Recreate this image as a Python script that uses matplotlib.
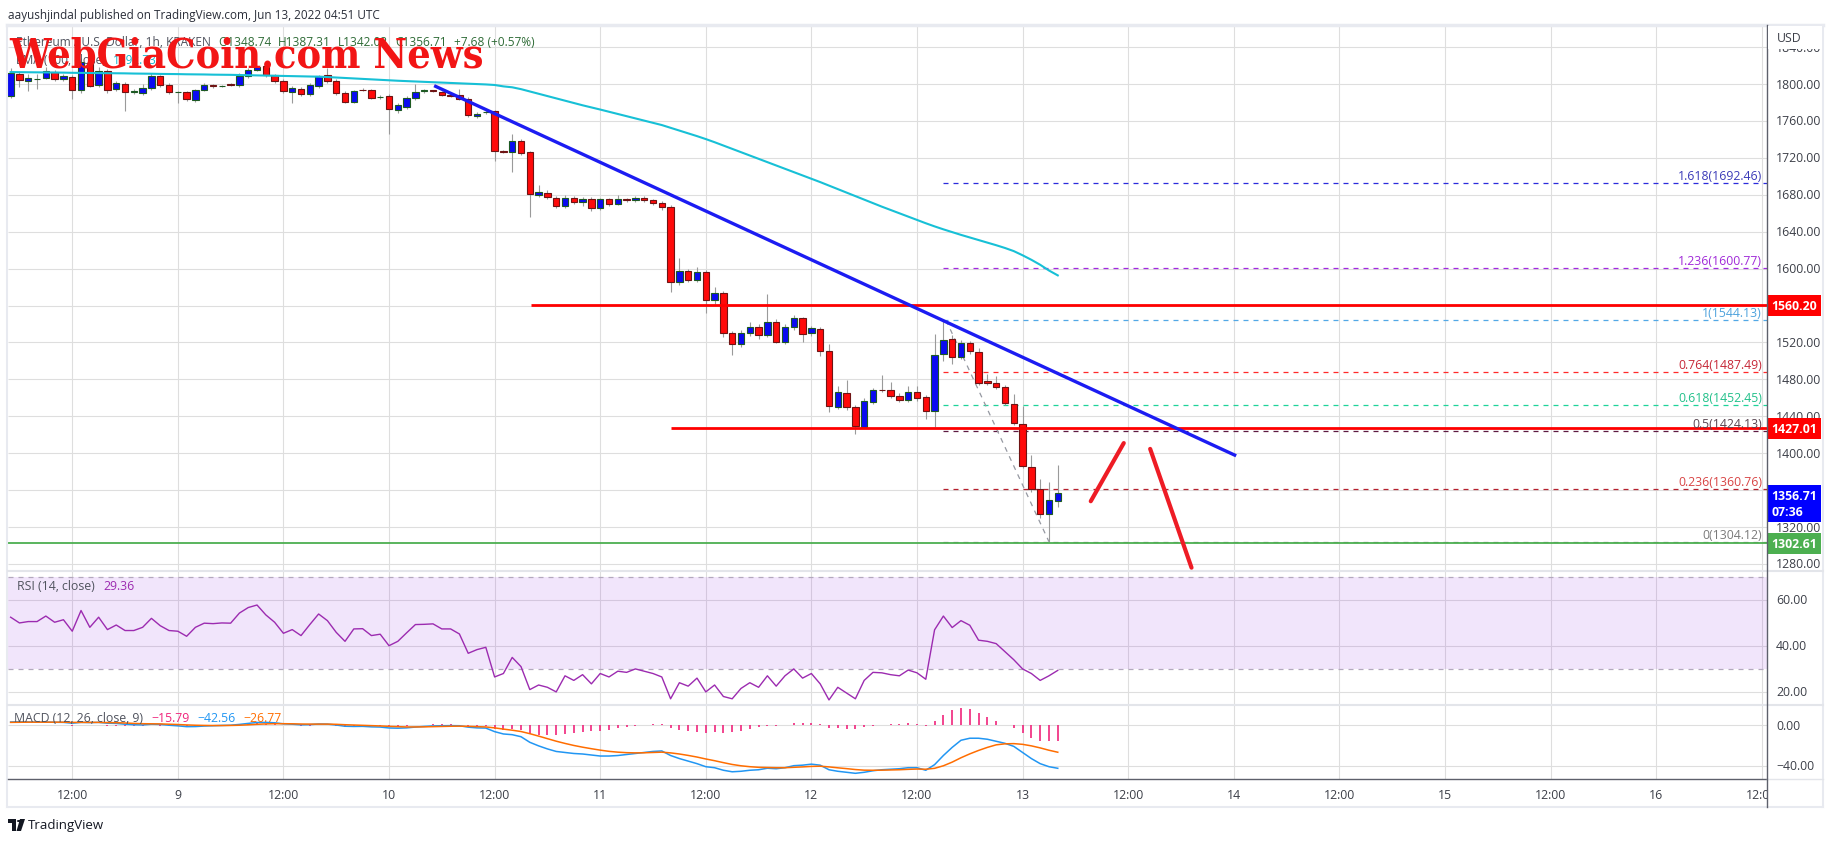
import matplotlib
matplotlib.use("Agg")
import matplotlib.pyplot as plt
from matplotlib.transforms import blended_transform_factory as blend
from matplotlib.patches import Rectangle, Polygon, Circle
from matplotlib.lines import Line2D

plt.rcParams['font.family'] = ['Open Sans', 'DejaVu Sans']

W, H, DPI = 1834, 845, 100

# ---------------- data: ETH/USD 1h (Kraken), hours counted from Jun 8 2022 00:00 UTC
hours = list(range(5, 125))

opens = [1787, 1811, 1803, 1805, 1807, 1813, 1805, 1808, 1793.5, 1822.5,
         1799, 1814, 1794.6, 1799.6, 1791, 1790, 1796, 1808.7, 1799, 1791,
         1791, 1783, 1793.5, 1798.5, 1797.8, 1799.8, 1799, 1809, 1815, 1819.6,
         1809.4, 1803, 1791, 1794.6, 1789, 1798, 1810, 1803, 1790, 1780.8,
         1794, 1793.5, 1785.5, 1787, 1772, 1775, 1785, 1792.5, 1793, 1791.7,
         1788, 1788, 1784, 1765, 1769.5, 1770.6, 1727, 1726, 1738, 1726,
         1680, 1682.5, 1677, 1668, 1677, 1672, 1676, 1666, 1675, 1670,
         1675, 1674, 1677, 1674, 1671, 1667, 1585, 1597, 1588, 1596,
         1566, 1574, 1530, 1518, 1530, 1537, 1528, 1542, 1521, 1536.6,
         1546, 1530, 1535, 1510.5, 1450, 1465, 1450, 1428, 1456, 1469,
         1468, 1462, 1458, 1466, 1461, 1446, 1507, 1524, 1504, 1519,
         1509.5, 1478, 1476, 1471.5, 1453, 1432, 1385, 1361, 1334, 1348.74]
highs = [1817, 1813, 1811, 1811, 1818, 1815, 1811, 1810, 1828, 1824,
         1818, 1816, 1803, 1802, 1795, 1800, 1812, 1810, 1801, 1793,
         1793, 1795, 1801, 1800, 1799, 1801, 1812, 1817, 1820, 1821,
         1811, 1805, 1798, 1797, 1801, 1810, 1817, 1805, 1792, 1794,
         1796, 1795, 1788, 1789, 1780, 1787, 1800, 1795, 1794, 1793,
         1790, 1795, 1786, 1770, 1772, 1772, 1729, 1746, 1740, 1728,
         1691, 1685, 1679, 1680, 1679, 1678, 1678, 1677, 1677, 1680,
         1677, 1679, 1679, 1676, 1673, 1669, 1612, 1600, 1602, 1598,
         1580, 1576, 1532, 1534, 1542, 1540, 1572, 1545, 1540, 1550,
         1548, 1538, 1537, 1518, 1473, 1479, 1452, 1460, 1471, 1485,
         1477, 1465, 1473, 1473, 1463, 1529, 1544.13, 1528, 1523, 1522,
         1514, 1486, 1484, 1474, 1464, 1451, 1398, 1372, 1368.5, 1387.31]
lows = [1785, 1797, 1792, 1795, 1806, 1803, 1803, 1784, 1790, 1797,
        1797, 1790, 1793, 1771, 1789, 1788, 1794, 1797, 1789, 1779,
        1782, 1781, 1792, 1796, 1797, 1798, 1797, 1807, 1814, 1808,
        1801, 1790, 1779, 1787, 1787, 1796, 1801, 1788, 1779, 1779,
        1792, 1784, 1784, 1745.6, 1769, 1773, 1783, 1790, 1791, 1787,
        1786, 1783, 1764, 1763, 1768, 1717, 1725, 1705, 1723, 1656,
        1678, 1676, 1666, 1666, 1670, 1668, 1662, 1664, 1668, 1669,
        1672, 1672, 1672, 1669, 1664, 1575, 1582, 1585, 1586, 1552,
        1562, 1526, 1506, 1515, 1527, 1524, 1526, 1519, 1518, 1534,
        1520, 1527, 1505, 1445, 1448, 1447, 1421, 1427, 1453, 1466,
        1460, 1455, 1455, 1457, 1437, 1428, 1500, 1497, 1502, 1508,
        1474, 1474, 1470, 1452, 1431, 1384, 1358, 1330, 1304.12, 1342.02]
closes = [1812, 1804, 1807, 1806, 1814, 1805, 1809, 1793.5, 1824, 1798,
          1814, 1793.5, 1800.7, 1791.7, 1792, 1796, 1808.7, 1799, 1791, 1791.5,
          1783.7, 1793.5, 1799, 1797.8, 1798.3, 1799, 1808.7, 1815, 1818, 1809.4,
          1803, 1792, 1796, 1789, 1799, 1808.7, 1803, 1790, 1780.8, 1792,
          1793.5, 1785, 1786, 1773.5, 1777, 1785, 1791.7, 1793, 1792.5, 1788,
          1787.5, 1784, 1766, 1768, 1770, 1727, 1726.5, 1738, 1725.6, 1681,
          1683, 1678, 1668, 1677, 1672, 1676, 1666, 1675, 1670, 1675,
          1674, 1677, 1674, 1671, 1667, 1585, 1597, 1588, 1596, 1566,
          1574, 1530, 1518, 1530, 1537, 1528, 1542, 1521, 1536.6, 1546,
          1529, 1535.5, 1510.5, 1451, 1466, 1450, 1429, 1457, 1469, 1468,
          1462.5, 1458, 1466, 1460, 1446, 1506, 1523, 1504, 1519, 1510.5,
          1476, 1476, 1472, 1454, 1432.5, 1386.6, 1361, 1334, 1349.03, 1356.71]
ema100 = [1813.0, 1812.9, 1812.8, 1812.7, 1812.6, 1812.5, 1812.4, 1812.2, 1812.1, 1812.0,
          1811.9, 1811.8, 1811.7, 1811.6, 1811.4, 1811.3, 1811.2, 1811.0, 1810.9, 1810.8,
          1810.6, 1810.5, 1810.4, 1810.2, 1810.1, 1810.0, 1809.8, 1809.6, 1809.4, 1809.2,
          1809.0, 1808.8, 1808.6, 1808.4, 1808.2, 1808.0, 1807.6, 1807.1, 1806.6, 1806.1,
          1805.6, 1805.1, 1804.6, 1804.1, 1803.6, 1803.2, 1802.8, 1802.4, 1802.0, 1801.6,
          1801.2, 1800.8, 1800.4, 1800.0, 1799.6, 1799.0, 1797.5, 1796.5, 1794.5, 1792.0,
          1789.5, 1787.0, 1784.5, 1782.0, 1779.5, 1777.0, 1774.7, 1772.4, 1770.0, 1767.6,
          1765.2, 1762.8, 1760.4, 1758.0, 1755.6, 1752.6, 1749.6, 1746.6, 1743.6, 1740.4,
          1737.0, 1733.4, 1729.8, 1726.2, 1722.6, 1719.0, 1715.4, 1711.8, 1708.2, 1704.6,
          1701.0, 1697.4, 1693.8, 1690.0, 1686.2, 1682.4, 1678.6, 1674.8, 1671.0, 1667.2,
          1663.6, 1660.0, 1656.4, 1652.8, 1649.2, 1645.8, 1642.6, 1639.6, 1636.6, 1633.8,
          1631.0, 1628.2, 1625.4, 1622.4, 1619.0, 1614.5, 1609.6, 1604.2, 1598.0, 1592.7]
rsi = [52.5, 50.0, 50.6, 50.6, 53.0, 50.3, 51.4, 46.4, 55.4, 48.1,
       52.5, 47.1, 49.1, 46.7, 46.7, 48.1, 52.0, 48.8, 46.7, 46.4,
       44.2, 48.1, 49.9, 49.7, 50.0, 49.9, 54.3, 56.7, 57.8, 53.5,
       50.3, 45.5, 47.1, 44.5, 49.3, 53.9, 51.0, 45.9, 42.0, 47.4,
       47.5, 44.5, 45.1, 40.1, 42.0, 45.7, 49.3, 49.4, 49.6, 47.4,
       47.4, 45.2, 36.8, 38.4, 39.4, 26.5, 28.0, 35.0, 31.0, 21.0,
       23.0, 22.0, 20.0, 27.0, 25.0, 27.5, 23.5, 28.0, 26.5, 29.0,
       28.5, 30.0, 29.0, 28.0, 26.5, 17.0, 24.0, 22.5, 26.0, 20.0,
       23.0, 18.0, 17.0, 21.5, 24.0, 22.0, 27.0, 22.5, 27.0, 30.0,
       26.0, 28.0, 23.5, 16.5, 22.0, 19.5, 17.0, 25.0, 28.5, 28.3,
       27.5, 27.0, 29.5, 28.3, 25.5, 47.0, 53.0, 48.0, 51.0, 49.0,
       42.5, 42.0, 41.0, 37.5, 34.0, 30.0, 28.0, 25.0, 27.0, 29.36]
macd = [3.0, 3.2, 3.0, 2.8, 2.9, 2.7, 2.6, 1.8, 2.6, 2.4,
        2.6, 1.8, 1.6, 0.8, 0.3, 0.1, 0.8, 0.6, -0.2, -0.8,
        -1.6, -1.5, -1.0, -0.7, -0.4, -0.2, 0.6, 1.6, 2.5, 2.6,
        2.2, 1.2, 0.8, 0.2, 0.4, 1.0, 0.9, 0.0, -1.2, -1.4,
        -1.3, -1.8, -2.0, -2.9, -3.1, -2.8, -2.0, -1.4, -0.9, -0.7,
        -0.6, -0.7, -2.1, -2.8, -3.0, -6.5, -8.8, -9.5, -11.5, -17.0,
        -20.5, -23.5, -26.0, -27.0, -28.0, -28.5, -29.5, -30.5, -30.5, -30.0,
        -29.0, -28.0, -27.0, -26.0, -25.5, -30.0, -33.0, -35.5, -38.0, -41.0,
        -42.0, -44.5, -46.0, -45.5, -44.5, -44.0, -42.5, -43.0, -42.0, -40.0,
        -39.5, -38.5, -39.5, -44.0, -45.5, -46.5, -47.5, -46.5, -45.0, -44.0,
        -43.5, -43.0, -42.0, -42.0, -44.5, -39.0, -30.0, -22.0, -15.0, -13.0,
        -13.0, -14.0, -16.0, -18.0, -21.0, -27.0, -33.0, -38.0, -41.0, -42.56]
signal = [2.6, 2.7, 2.8, 2.8, 2.8, 2.8, 2.8, 2.6, 2.6, 2.6,
          2.6, 2.4, 2.3, 2.0, 1.6, 1.3, 1.2, 1.1, 0.8, 0.5,
          0.1, -0.2, -0.4, -0.5, -0.5, -0.4, -0.2, 0.2, 0.7, 1.1,
          1.3, 1.3, 1.2, 1.0, 0.9, 0.9, 0.9, 0.7, 0.3, 0.0,
          -0.3, -0.6, -0.9, -1.3, -1.6, -1.9, -1.9, -1.8, -1.6, -1.4,
          -1.2, -1.1, -1.3, -1.6, -1.9, -2.8, -4.0, -5.1, -6.4, -8.5,
          -10.9, -13.4, -15.9, -18.1, -20.1, -21.8, -23.3, -24.7, -25.9, -26.7,
          -27.2, -27.4, -27.3, -27.0, -26.7, -27.4, -28.5, -29.9, -31.5, -33.4,
          -35.1, -37.0, -38.8, -40.1, -41.0, -41.6, -41.8, -42.0, -42.0, -41.6,
          -41.2, -40.7, -40.5, -41.2, -42.1, -42.9, -43.8, -44.4, -44.5, -44.4,
          -44.2, -44.0, -43.6, -43.3, -43.5, -42.6, -40.1, -36.5, -32.2, -28.4,
          -25.0, -22.0, -19.5, -18.5, -18.3, -19.0, -20.5, -22.5, -24.8, -26.77]
hist = [m - s for m, s in zip(macd, signal)]

# drawings on the chart
trend_h, trend_p = [53.3, 144.1], [1797.5, 1398.0]
resist_levels = [1560.20, 1427.01]
resist_start = [64.1, 80.1]
support_level = 1302.61
fib_start = 111.0
fib_names = ['1.618', '1.236', '1', '0.764', '0.618', '0.5', '0.236', '0']
fib_values = [1692.46, 1600.77, 1544.13, 1487.49, 1452.45, 1424.13, 1360.76, 1304.12]
fib_line_colors = ['#2b2bdc', '#a128e0', '#52a8e6', '#ff2a2a', '#1fd39a', '#5d1a40', '#b5202e', '#8f8f8f']
fib_text_colors = ['#3b3bb8', '#a02ad8', '#4fa3dd', '#c62838', '#22c08a', '#5a4652', '#d84444', '#7a7a7a']
swing_h, swing_p = [111.3, 123.0], [1544.13, 1304.12]
stroke_up_h, stroke_up_p = [127.75, 131.5], [1348, 1411]
stroke_dn_h, stroke_dn_p = [134.5, 139.2], [1404.7, 1276]

price_ticks = list(range(1280, 1841, 40))
grid_hours = list(range(12, 205, 12))

# ---------------- figure
XL, XR = 4.7, 204.6
X0, X1 = 8, 1767
GRID = '#dedede'
AXTXT = '#3c3f48'
FS = 8.8

fig = plt.figure(figsize=(W / DPI, H / DPI), dpi=DPI)
fig.patch.set_facecolor('white')
rend = fig.canvas.get_renderer()


def panel(top, bottom):
    ax = fig.add_axes([X0 / W, 1 - bottom / H, (X1 - X0) / W, (bottom - top) / H])
    ax.set_xlim(XL, XR)
    ax.set_facecolor('white')
    for s in ax.spines.values():
        s.set_visible(False)
    ax.set_xticks([])
    ax.set_yticks([])
    return ax


def fig_line(x0, y0, x1, y1, color, lw):
    fig.add_artist(Line2D([x0 / W, x1 / W], [1 - y0 / H, 1 - y1 / H], color=color,
                          lw=lw, transform=fig.transFigure, zorder=30))


def fig_txt(x, y, s, **kw):
    kw.setdefault('fontsize', FS)
    kw.setdefault('va', 'center')
    return fig.text(x / W, 1 - y / H, s, **kw)


def chain(x, y, parts, gap=7, **kw):
    # place coloured pieces of a legend one after another
    for s, c in parts:
        t = fig_txt(x, y, s, color=c, **kw)
        x += t.get_window_extent(rend).width + gap


def right_labels(ax, values):
    tr = blend(fig.transFigure, ax.transData)
    for v in values:
        ax.text(1776 / W, v, f'{v:.2f}'.replace('-', '\u2212'), transform=tr, ha='left',
                va='center', fontsize=FS, color=AXTXT, clip_on=False, zorder=5)


def axis_box(ax, y, s, fc, va='center'):
    tr = blend(fig.transFigure, ax.transData)
    ax.text(1771 / W, y, s, transform=tr, ha='left', va=va, fontsize=FS, fontweight='bold',
            color='white', linespacing=1.35,
            bbox=dict(boxstyle='square,pad=0.32', fc=fc, ec='none'), clip_on=False, zorder=12)


ax_p = panel(26, 572)
ax_r = panel(572, 706)
ax_m = panel(706, 780)
ax_t = panel(780, 808)

# ---- price panel
ax_p.set_ylim(1272.4, 1864)
ax_p.vlines(grid_hours, 1272.4, 1864, color=GRID, lw=0.8, zorder=0)
ax_p.hlines(price_ticks, XL, XR, color=GRID, lw=0.8, zorder=0)

for v, c in zip(fib_values, fib_line_colors):
    ax_p.hlines(v, fib_start, XR, colors=c, lw=0.9, linestyles=(0, (4, 4)), zorder=1)
ax_p.plot(swing_h, swing_p, color='#9598a1', lw=0.9, ls=(0, (4, 4)), zorder=1)

up = [c >= o for o, c in zip(opens, closes)]
body_low = [min(o, c) for o, c in zip(opens, closes)]
body_h = [max(abs(c - o), 0.6) for o, c in zip(opens, closes)]
ax_p.vlines(hours, lows, highs, color='#9a9a9a', lw=0.8, zorder=2)
ax_p.bar(hours, body_h, bottom=body_low, width=0.72,
         color=['#0a0af2' if u else '#ff0a0a' for u in up],
         edgecolor=['#1d5a22' if u else '#6e1414' for u in up], linewidth=0.8, zorder=3)

ax_p.plot(hours, ema100, color='#17c0d6', lw=1.5, zorder=4)

for lvl, st in zip(resist_levels, resist_start):
    ax_p.hlines(lvl, st, XR, color='#ff0000', lw=2.0, zorder=5)
ax_p.hlines(support_level, XL, XR, color='#4caf50', lw=1.3, zorder=5)
ax_p.plot(trend_h, trend_p, color='#1c1cf2', lw=2.4, zorder=6)
ax_p.plot(stroke_up_h, stroke_up_p, color='#ee1c25', lw=3.0, solid_capstyle='round', zorder=6)
ax_p.plot(stroke_dn_h, stroke_dn_p, color='#ee1c25', lw=3.0, solid_capstyle='round', zorder=6)

tr_p = blend(fig.transFigure, ax_p.transData)
for name, v, c in zip(fib_names, fib_values, fib_text_colors):
    ax_p.text(1762 / W, v + 1.2, f'{name}({v:.2f})', transform=tr_p, ha='right', va='bottom',
              fontsize=FS, color=c, zorder=7)

right_labels(ax_p, price_ticks)
axis_box(ax_p, 1560.20, '1560.20', '#ff0000')
axis_box(ax_p, 1427.01, '1427.01', '#ff0000')
axis_box(ax_p, 1302.61, '1302.61', '#4caf50')
axis_box(ax_p, 1356.71 + 5.0, '1356.71\n07:36', '#0000ff', va='top')

# ---- RSI panel
ax_r.set_ylim(14.3, 72.6)
ax_r.vlines(grid_hours, 14.3, 72.6, color=GRID, lw=0.8, zorder=0)
ax_r.hlines([60, 40, 20], XL, XR, color=GRID, lw=0.8, zorder=0)
ax_r.axhspan(30, 70, color='#7f00df', alpha=0.1, lw=0, zorder=1)
ax_r.hlines([70, 30], XL, XR, colors='#b3a9bd', lw=0.9, linestyles=(0, (4, 4)), zorder=2)
ax_r.plot(hours, rsi, color='#9c2bb0', lw=1.0, zorder=3)
right_labels(ax_r, [60, 40, 20])

# ---- MACD panel
ax_m.set_ylim(-53.1, 19.7)
ax_m.vlines(grid_hours, -53.1, 19.7, color=GRID, lw=0.8, zorder=0)
ax_m.hlines([0, -40], XL, XR, color=GRID, lw=0.8, zorder=0)
ax_m.vlines(hours, 0, hist, color='#f0257c', lw=1.2, zorder=2)
ax_m.plot(hours, macd, color='#2196f3', lw=1.1, zorder=3)
ax_m.plot(hours, signal, color='#ff6d00', lw=1.1, zorder=3)
right_labels(ax_m, [0, -40])

# ---- time axis
ax_t.set_ylim(0, 1)
for h in grid_hours:
    lab = '12:00' if h % 24 == 12 else str(8 + h // 24)
    ax_t.text(h, 0.45, lab, ha='center', va='center', fontsize=FS, color=AXTXT, clip_on=True)

# ---- frame and separators
fig_line(7, 26, 1823, 26, '#e8eaf0', 2.5)
fig_line(7, 26, 7, 808, '#e8eaf0', 1.5)
fig_line(1823, 26, 1823, 808, '#e8eaf0', 1.5)
fig_line(7, 808, 1823, 808, '#e8eaf0', 1.5)
fig_line(8, 572, 1823, 572, '#e3e5ea', 1.5)
fig_line(8, 706, 1823, 706, '#e3e5ea', 1.5)
fig_line(8, 780, 1767, 780, '#5d606b', 1.0)
fig_line(1767, 780, 1823, 780, '#e3e5ea', 1.0)
fig_line(1767, 26, 1767, 808, '#5d606b', 1.0)

fig.add_artist(Rectangle((1768 / W, 1 - 50 / H), 54 / W, 23 / H, transform=fig.transFigure,
                         fc='white', ec='none', zorder=31))
fig_txt(1777, 38, 'USD', color=AXTXT, zorder=32)

# ---- header texts
fig_txt(8, 15, 'aayushjindal published on TradingView.com, Jun 13, 2022 04:51 UTC',
        fontsize=8.5, color='#2a2e39')
chain(16, 42, [('Ethereum / U.S. Dollar, 1h, KRAKEN', '#50535e'), ('O1348.74', '#2e6b36'),
               ('H1387.31', '#2e6b36'), ('L1342.02', '#2e6b36'), ('C1356.71', '#2e6b36'),
               ('+7.68 (+0.57%)', '#2e6b36')], fontsize=8.6)
chain(16, 60, [('EMA (100, close)', '#50535e'), ('1592.73', '#17b8d0')], fontsize=8.6)

chain(17, 587, [('RSI (14, close)', '#50535e'), ('29.36', '#9c2bb0')], gap=9)
chain(14, 719, [('MACD (12, 26, close, 9)', '#50535e'), ('\u221215.79', '#f0257c'),
                ('\u221242.56', '#2196f3'), ('\u221226.77', '#ff6d00')], gap=8)

# watermark, sized to its width in the reference
wm = fig_txt(9, 56, 'WebGiaCoin.com News', fontsize=30, fontweight='bold',
             family='DejaVu Serif', fontstretch='condensed', color='#f21515', zorder=40)
bb = wm.get_window_extent(rend)
wm.set_fontsize(30 * 474 / bb.width)

# TradingView footer
fig.add_artist(Rectangle((8 / W, 1 - 824 / H), 8 / W, 4 / H, transform=fig.transFigure,
                         fc='#131722', ec='none'))
fig.add_artist(Rectangle((12 / W, 1 - 832 / H), 4 / W, 10 / H, transform=fig.transFigure,
                         fc='#131722', ec='none'))
fig.add_artist(Circle((19 / W, 1 - 822 / H), 2.2 / W, transform=fig.transFigure,
                      fc='#131722', ec='none'))
fig.add_artist(Polygon([(20 / W, 1 - 820 / H), (25 / W, 1 - 820 / H), (21 / W, 1 - 832 / H),
                        (16.5 / W, 1 - 832 / H)], closed=True, transform=fig.transFigure,
                       fc='#131722', ec='none'))
fig_txt(28, 826, 'TradingView', fontsize=9.5, color='#131722')

fig.savefig('out.png', dpi=DPI, facecolor='white')
